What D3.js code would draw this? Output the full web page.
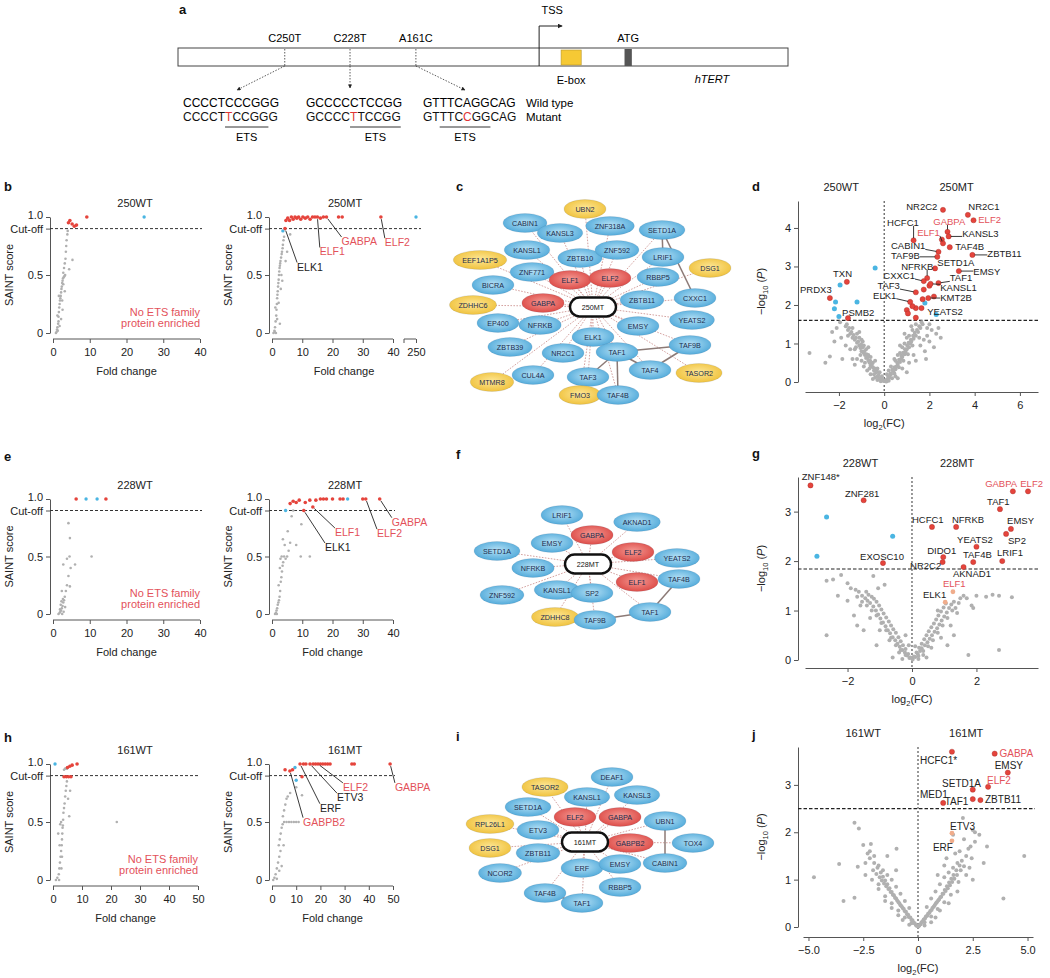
<!doctype html>
<html>
<head>
<meta charset="utf-8">
<script src="https://cdn.jsdelivr.net/npm/d3@7"></script>
<style>
  body { margin: 0; background: #fff; }
  text { font-family: "Liberation Sans", Arial, Helvetica, sans-serif; }
</style>
</head>
<body>
<div id="viz"></div>
<script>

// ---------- panel a: promoter scheme ----------
var mutations = ['C250T', 'C228T', 'A161C'];
var mutPos = [17.5, 28.2, 39.0];          // position along the promoter bar (0-100)
var tssPos = 59.2;
var eboxPos = [62.8, 66.1];
var atgPos = [73.2, 74.4];
var wtSeqs = ['CCCCTCCCGGG', 'GCCCCCTCCGG', 'GTTTCAGGCAG'];
var mtSeqs = ['CCCCTTCCGGG', 'GCCCCTTCCGG', 'GTTTCCGGCAG'];
var mutIndex = [5, 5, 5];
var etsRange = [[5, 10], [5, 11], [2, 8]];

// ---------- SAINT plots (fold change, SAINT score) ----------
var s250wtGrey = [[0.8,0],[1,0.01],[1.1,0.03],[1.2,0.05],[1.3,0.02],[1.4,0.08],[1.5,0.1],[1.5,0.14],[1.6,0.18],[1.7,0.22],[1.8,0.25],[1.9,0.28],[2,0.3],[2.1,0.32],[2.2,0.35],[2.3,0.38],[2.4,0.4],[2.5,0.43],[2.6,0.45],[2.7,0.47],[2.9,0.48],[3.1,0.49],[3.3,0.5],[2.8,0.52],[3,0.56],[3.2,0.6],[3.4,0.64],[3.5,0.7],[3.6,0.75],[3.7,0.8],[3.9,0.85],[4,0.88],[5.3,0.63],[4.4,0.55],[2.2,0.12],[1.8,0.06],[2.6,0.2],[1.2,0.15],[2.5,0.28],[3.2,0.36],[1.6,0.32],[2.8,0.42]];
var s250wtRed = [[4.2,0.95],[4.6,0.97],[5.2,0.94],[5.8,0.92],[6.4,0.93],[9.2,1.0]];
var s250wtBlue = [[24.8,1.0]];

var s250mtGrey = [[0.5,0],[0.8,0.02],[1,0.05],[1.2,0.1],[1.4,0.15],[1.5,0.2],[1.6,0.25],[1.7,0.3],[1.8,0.33],[1.9,0.36],[2,0.4],[2.1,0.43],[2.2,0.46],[2.3,0.5],[2.4,0.53],[2.5,0.56],[2.6,0.58],[2.7,0.6],[2.8,0.62],[3,0.65],[3.2,0.68],[3.3,0.7],[3.5,0.73],[3.6,0.76],[3.8,0.8],[4,0.83],[1.3,0],[1.7,0.12],[2.2,0.26],[3.1,0.5],[3.4,0.45],[2.9,0.38],[4.5,0.62],[5,0.7],[1.1,0.22],[2.6,0.08],[0.9,0.01],[6,0.85]];
var s250mtRed = [[4.3,0.9],[4.6,0.97],[5.2,0.99],[5.8,0.97],[6.4,1],[7,0.98],[7.6,1],[8.2,0.99],[8.8,1],[9.5,0.98],[10.2,1],[11,0.99],[11.8,1],[12.6,0.98],[13.4,1],[14.2,1],[15,1],[16,0.99],[17,1],[18,1],[22,1],[23.2,1],[36,1]];
var s250mtBlue = [[3.6,0.88],[250,1]];
var s250mtLabels = [['ELK1',4.3,0.9],['ELF1',15,1],['GABPA',18,1],['ELF2',36,1]];

var s228wtGrey = [[1.5,0],[1.8,0.01],[2,0.02],[2.2,0.03],[2.4,0.05],[2.6,0.07],[2.8,0.1],[3,0.12],[3.2,0.15],[2.5,0],[2.1,0.08],[1.9,0.04],[2.9,0.02],[3.3,0.06],[2.7,0.13],[2.3,0.11],[3.5,0.2],[2.4,0.2],[3.8,0.25],[4.6,0.24],[4.2,0.33],[4.8,0.4],[2.8,0.43],[3.8,0.48],[4.5,0.5],[6,0.43],[4.6,0.66],[4.2,0.79],[10.5,0.5]];
var s228wtRed = [[6.3,1],[14.4,1]];
var s228wtBlue = [[9,1],[12,1]];

var s228mtGrey = [[1,0],[1.3,0.01],[1.5,0.03],[1.7,0.05],[1.9,0.08],[2.1,0.1],[1.6,0],[2.3,0.12],[2.5,0.15],[2.7,0.2],[2.2,0.25],[2.9,0.28],[3.1,0.32],[3.3,0.37],[2.6,0.4],[3.5,0.42],[3.7,0.45],[2.8,0.48],[3.2,0.5],[4,0.5],[4.5,0.48],[5,0.5],[5.5,0.55],[4.2,0.6],[3.6,0.65],[6,0.62],[5.2,0.72],[8,0.6],[9.7,0.78],[12.5,0.5],[9.5,0.5],[6.5,0.85],[7,0.9]];
var s228mtRed = [[6,0.96],[7,0.98],[8,0.97],[9,0.99],[10.5,0.9],[11,0.97],[12.5,0.99],[13.5,0.93],[14.5,0.99],[16,1],[17,1],[18,1],[20,1],[22.5,1],[23.5,1],[30,1],[31,1],[35.6,1]];
var s228mtBlue = [[25,1],[4.5,0.9]];
var s228mtLabels = [['ELK1',10.5,0.9],['ELF1',13.5,0.93],['ELF2',31,1],['GABPA',35.6,1]];

var s161wtGrey = [[1,0],[1.5,0.02],[2,0.05],[2.2,0.1],[2.4,0.15],[2.6,0.2],[2.8,0.25],[3,0.3],[3.1,0.35],[3.2,0.4],[3.3,0.45],[3.4,0.47],[2.5,0.48],[2.8,0.5],[3.5,0.52],[3.6,0.58],[3.8,0.62],[4,0.66],[4.2,0.72],[4.4,0.77],[4.6,0.81],[4.8,0.85],[5.9,0.77],[5.2,0.7],[2.1,0],[2.9,0.1],[3.1,0.2],[2.3,0.3],[1.8,0.4],[22,0.5],[5.6,0.55],[4.2,0.96],[4.8,0.96],[3.8,0.95]];
var s161wtRed = [[3.8,0.89],[4.6,0.89],[5.4,0.89],[6.2,0.89],[5,0.97],[5.8,0.98],[6.6,0.99],[8.3,1]];
var s161wtBlue = [[0.7,1]];

var s161mtGrey = [[0.5,0],[1,0.02],[1.5,0.05],[2,0.1],[2.5,0.15],[3,0.2],[3.5,0.25],[2.8,0.3],[3.2,0.35],[3.6,0.4],[4,0.45],[4.4,0.48],[5,0.5],[6,0.5],[7,0.5],[8,0.5],[9,0.5],[10,0.5],[11,0.5],[4.5,0.55],[5,0.6],[5.5,0.65],[6,0.7],[6.5,0.72],[7.5,0.75],[12.4,0.73],[10,0.8],[3,0.08],[2,0.01],[4,0.12],[4.8,0.3]];
var s161mtRed = [[5.4,0.95],[7.4,0.94],[8.5,0.95],[12.4,0.89],[11.6,1],[13,1],[14,1],[15.7,1],[17,1],[18,1],[19,1],[20,1],[21,1],[22,1],[23,1],[24,1],[33,1],[34,1],[48.8,1]];
var s161mtBlue = [[9.5,0.97],[10,0.86]];
var s161mtLabels = [['GABPB2',7.4,0.94],['ERF',11.6,1],['ETV3',15.7,1],['ELF2',19,1],['GABPA',48.8,1]];

var etsGenes = ['ELF1', 'ELF2', 'GABPA', 'GABPB2'];

// ---------- networks: [protein, class, layout x, layout y] ----------
var net250 = [['UBN2','y',-8,-98],['CABIN1','b',-68,-84],['KANSL3','b',-33,-74],['ZNF318A','b',17,-81],['SETD1A','b',69,-77],['KANSL1','b',-66,-57],['ZBTB10','b',-13,-49],['ZNF592','b',24,-57],['LRIF1','b',70,-50],['EEF1A1P5','y',-113,-47],['ZNF771','b',-61,-35],['ELF1','r',-23,-27],['ELF2','r',17,-29],['RBBP5','b',65,-30],['DSG1','y',117,-39],['BICRA','b',-100,-22],['GABPA','r',-50,-4],['ZBTB11','b',49,-7],['CXXC1','b',102,-9],['ZDHHC6','y',-120,-2],['EP400','b',-95,16],['NFRKB','b',-53,18],['EMSY','b',45,19],['YEATS2','b',99,13],['ELK1','b',0,30],['ZBTB39','b',-83,40],['NR2C1','b',-30,46],['TAF1','b',24,45],['TAF9B','b',97,38],['CUL4A','b',-60,68],['TAF3','b',-5,70],['TAF4','b',57,63],['TASOR2','y',106,66],['MTMR8','y',-101,75],['FMO3','y',-13,88],['TAF4B','b',25,88]];
var net250Links = [['SETD1A','CXXC1'],['SETD1A','LRIF1'],['TAF1','TAF3'],['TAF1','TAF4B'],['TAF1','TAF4'],['TAF1','TAF9B'],['TAF4','TAF9B']];

var net228 = [['LRIF1','b',-26,-49],['AKNAD1','b',49,-42],['GABPA','r',4,-29],['EMSY','b',-36,-21],['SETD1A','b',-91,-13],['ELF2','r',45,-12],['YEATS2','b',89,-6],['NFRKB','b',-55,4],['ELF1','r',49,18],['TAF4B','b',91,15],['KANSL1','b',-31,26],['ZNF592','b',-86,31],['SP2','b',4,29],['TAF1','b',62,48],['ZDHHC8','y',-33,53],['TAF9B','b',7,56]];
var net228Links = [['TAF1','TAF4B'],['TAF1','TAF9B']];

var net161 = [['DEAF1','b',27,-65],['TASOR2','y',-40,-55],['KANSL1','b',2,-45],['KANSL3','b',52,-47],['SETD1A','b',-57,-35],['ELF2','r',-10,-25],['GABPA','r',35,-25],['UBN1','b',80,-21],['RPL26L1','y',-95,-18],['ETV3','b',-47,-12],['GABPB2','r',45,1],['TOX4','b',108,1],['DSG1','y',-95,6],['ZBTB11','b',-47,11],['ERF','b',-3,26],['EMSY','b',35,22],['CABIN1','b',80,21],['NCOR2','b',-85,31],['TAF4B','b',-40,51],['TAF1','b',-3,61],['RBBP5','b',35,45]];
var net161Links = [['UBN1','CABIN1'],['TAF1','TAF4B']];

// ---------- volcano plots: [log2(FC), -log10(P)] and [protein, log2(FC), -log10(P)] ----------
var v250Grey = [[0.05,0.02],[-0.1,0.05],[0.15,0.08],[-0.2,0.1],[0.25,0.12],[-0.3,0.15],[0.3,0.2],[-0.35,0.25],[0.4,0.28],[-0.45,0.3],[0.5,0.33],[-0.5,0.38],[0.55,0.4],[-0.6,0.42],[0.6,0.45],[-0.65,0.5],[0.7,0.52],[-0.7,0.55],[0.75,0.6],[-0.8,0.62],[0.8,0.65],[-0.85,0.7],[0.9,0.72],[-0.9,0.75],[0.95,0.78],[-1,0.8],[1,0.85],[-1.05,0.88],[1.1,0.9],[-1.1,0.95],[1.15,1],[-1.2,1.02],[1.2,1.05],[-1.3,1.1],[1.3,1.12],[-1.4,1.15],[1.4,1.2],[-1.5,1.25],[1.5,1.3],[-1.6,1.35],[1.6,1.4],[-1.7,1.45],[1.7,1.5],[-1.2,0.6],[-0.9,0.4],[-0.6,0.2],[0.5,0.15],[0.8,0.35],[1.1,0.5],[1.3,0.7],[-1.5,0.85],[-1.3,0.45],[0.2,0.03],[-0.15,0.02],[0.35,0.1],[-0.4,0.12],[1,0.25],[-0.75,0.3],[1.6,0.95],[1.9,1.2],[2.1,1.35],[2.3,1.25],[2.5,1.15],[1.8,0.8],[-1.9,1.15],[-1.85,0.6],[-2.4,0.66],[-3.3,0.75],[-1.4,0.6],[-1,0.55],[-0.5,0.08],[0.6,0.1],[1.4,0.55],[-1.7,0.95],[1.2,1.45],[-0.3,0.05],[0.1,0.01],[2,1.5],[-2.1,1.4],[-1.1,1.3],[0.9,1.25],[-0.95,1.05],[1.75,1.1],[-1.3,0.85],[-0.7,0.9],[0.7,0.95],[2.2,0.9],[-2.2,1.05],[0.45,0.6],[-0.4,0.55],
  [-0.05,0.03],[0.08,0.05],[-0.12,0.1],[0.18,0.14],[-0.25,0.18],[0.28,0.22],[-0.32,0.28],[0.36,0.32],[-0.42,0.35],[0.46,0.38],[-0.55,0.45],[0.58,0.5],[-0.62,0.55],[0.66,0.58],[-0.72,0.64],[0.76,0.68],[-0.78,0.72],[0.84,0.76],[-0.88,0.8],[0.92,0.85],[-0.95,0.9],[1.02,0.95],[-1.02,0.98],[1.08,1.02],[-1.15,1.05],[1.18,1.1],[-1.25,1.15],[1.28,1.2],[-1.35,1.22],[1.35,1.28],[-1.45,1.3],[1.45,1.35],[-1.55,1.4],[1.55,1.45],[-1.65,1.5],[1.65,1.55],[-0.3,0.35],[0.3,0.4],[-0.5,0.5],[0.5,0.55],[-0.7,0.7],[0.7,0.75],[-0.9,0.95],[0.9,1],[-1.1,1.15],[1.1,1.2],[-0.2,0.25],[0.2,0.3],[-0.6,0.65],[0.6,0.7],[-0.8,0.85],[0.8,0.9],[-1,1.1],[1,1.15],[-1.2,1.25],[1.25,1.35],[-1.4,1.4],[1.4,1.5],[-0.45,0.2],[0.45,0.22],[-0.65,0.35],[0.65,0.38],[-0.85,0.5],[0.85,0.55],[-1.05,0.7],[1.05,0.72],[-1.25,0.9],[1.25,0.95],[1.55,1.15],[-1.6,1.2],[-0.1,0.15],[0.12,0.2],[2,1.05],[1.9,1.4],[-2.3,1.3],[-2.6,0.5],[-1.95,1.55],[2.4,1.4],[1.85,0.6]];
var v250Sig = [['NR2C2',2.6,4.47],['NR2C1',3.7,4.34],['ELF2',3.95,4.2],['GABPA',2.8,3.9],['KANSL3',2.85,3.78],['ELF1',2.6,3.6],['HCFC1',1.3,3.68],['TAF4B',2.9,3.5],['CABIN1',2.4,3.38],['ZBTB11',3.9,3.3],['TAF9B',2.35,3.25],['SETD1A',2.25,2.95],['NFRKB',1.9,2.7],['EMSY',3.3,2.88],['CXXC1',1.75,2.62],['TAF1',2.4,2.57],['TAF3',1.4,2.33],['KANSL1',2.05,2.55],['ELK1',1.15,2.08],['KMT2B',1.95,2.18],['YEATS2',1.65,1.92],['PSMB2',-1.6,1.66],['TXN',-1.65,2.6],['PRDX3',-2.4,2.18]];
var v250Red = [[1,1.87],[1.05,1.78],[1.4,1.92],[1.4,1.67],[1.7,2.15],[2.2,2.22],[1.25,1.97],[1.75,2.4],[2,2.5],[2.55,3.7]];
var v250Blue = [[-1.95,2.52],[-2.15,2.08],[-2.2,1.9],[-2,1.7],[-1.2,2.08],[-0.4,2.96],[1.8,2.05],[2.3,1.75]];

var v228Grey = [[0.02,0.01],[-0.08,0.04],[0.1,0.06],[-0.15,0.09],[0.18,0.12],[-0.22,0.15],[0.25,0.18],[-0.3,0.2],[0.3,0.24],[-0.38,0.27],[0.4,0.3],[-0.45,0.33],[0.48,0.36],[-0.52,0.4],[0.55,0.43],[-0.6,0.46],[0.62,0.5],[-0.68,0.54],[0.7,0.57],[-0.75,0.6],[0.78,0.64],[-0.82,0.68],[0.85,0.72],[-0.9,0.76],[0.92,0.8],[-0.98,0.84],[1,0.88],[-1.05,0.92],[1.08,0.96],[-1.12,1],[1.15,1.05],[-1.2,1.08],[1.22,1.12],[-1.3,1.15],[1.3,1.18],[-1.38,1.2],[-1.45,1.25],[-1.55,1.3],[-1.65,1.38],[-1.75,1.42],[-1.9,1.45],[-2.45,1.63],[-2.65,1.6],[-2.2,1.72],[-1.2,1.7],[-0.85,1.52],[-1.6,1.1],[-1.3,0.85],[-1,0.6],[-0.7,0.4],[-0.4,0.15],[0.35,0.1],[0.6,0.25],[0.9,0.45],[1.2,0.7],[1.4,0.95],[1.6,1.3],[2,1.3],[2.3,1.28],[2.7,1.3],[3.1,1.27],[1.75,0.1],[2.7,0.2],[-2.65,0.5],[-0.2,0.5],[-1.1,0.3],[1.5,1.25],[1.35,1.05],[-0.6,0.05],[0.45,0.05],[-2,1.2],[-1.8,0.9],[1.85,1.1],[0.2,0.02],[-0.3,0.02],[1.1,0.3],[-1.5,0.6],[0.8,1],
  [-0.05,0.05],[0.06,0.07],[-0.12,0.12],[0.14,0.15],[-0.2,0.22],[0.22,0.25],[-0.28,0.3],[0.3,0.33],[-0.35,0.38],[0.38,0.42],[-0.42,0.46],[0.45,0.5],[-0.5,0.55],[0.52,0.58],[-0.58,0.62],[0.6,0.66],[-0.65,0.7],[0.68,0.74],[-0.72,0.78],[0.75,0.82],[-0.8,0.86],[0.82,0.9],[-0.88,0.94],[0.9,0.98],[-0.95,1.02],[0.98,1.06],[-1.02,1.1],[1.05,1.14],[-1.1,1.18],[-1.18,1.24],[-1.25,1.28],[-1.35,1.32],[-1.42,1.38],[-0.2,0.1],[0.2,0.08],[-0.35,0.2],[0.35,0.18],[-0.5,0.3],[0.5,0.28],[-0.65,0.45],[0.65,0.4],[-0.8,0.6],[0.8,0.55],[-0.95,0.75],[0.95,0.7],[-1.1,0.9],[1.1,0.85],[-1.25,1],[1.25,1],[-1.4,1.1],[1.45,1.15],[-1.55,1.18],[-1.7,1.28],[1.7,1.25],[-2,1.55],[-1.05,1.45],[2.5,1.32],[1.3,0.5],[-1.7,0.7],[-0.1,0.3],[0.1,0.28],[1.9,1.05],[-2.3,1.3]];
var v228Sig = [['ZNF148*',-3.15,3.53],['ZNF281',-1.5,3.23],['EXOSC10',-0.9,1.96],['GABPA',3.13,3.41],['ELF2',3.6,3.41],['TAF1',2.73,3.05],['HCFC1',0.62,2.69],['NFRKB',1.37,2.69],['EMSY',3.07,2.65],['SP2',2.92,2.55],['YEATS2',2,2.29],['DIDO1',0.97,2.08],['TAF4B',1.9,1.98],['LRIF1',2.8,2],['NR2C2',0.95,1.98],['AKNAD1',1.6,1.88]];
var v228Weak = [['ELF1',1.27,1.38],['ELK1',1.03,1.17]];
var v228Blue = [[-2.65,2.89],[-2.95,2.1],[-0.6,2.5]];

var v161Grey = [[0.02,0.01],[-0.1,0.04],[0.12,0.06],[-0.2,0.09],[0.22,0.12],[-0.3,0.15],[0.32,0.18],[-0.42,0.21],[0.42,0.24],[-0.5,0.27],[0.52,0.3],[-0.6,0.33],[0.62,0.36],[-0.7,0.4],[0.72,0.43],[-0.8,0.46],[0.82,0.5],[-0.9,0.53],[0.92,0.56],[-1,0.6],[1.02,0.63],[-1.1,0.67],[1.12,0.7],[-1.2,0.74],[1.22,0.78],[-1.3,0.82],[1.32,0.86],[-1.4,0.9],[1.42,0.94],[-1.5,0.98],[1.52,1.02],[-1.6,1.06],[1.62,1.1],[-1.7,1.15],[1.75,1.2],[-1.85,1.25],[1.9,1.3],[-2,1.35],[2,1.4],[-2.2,1.45],[2.2,1.5],[-2.3,1.55],[-2.5,1.73],[-2.2,1.6],[-0.98,1.65],[-1.4,1.5],[1.3,1.45],[1.7,1.55],[2.4,1.7],[2.6,1.8],[2.8,1.95],[2.5,2.05],[1.6,1.95],[2.05,2.3],[2.6,2],[3.15,1.7],[2.35,1.25],[3,1.35],[-2.9,2.2],[-2.7,2.08],[-3.6,1.33],[-2.75,1.27],[-4.75,1.05],[-3.4,0.55],[-2.9,0.62],[3.9,0.6],[4.85,1.5],[-1.2,0.4],[-0.7,0.15],[0.6,0.1],[1,0.35],[-1.8,0.8],[1.8,0.75],[-0.4,0.05],[0.3,0.03],[-2.4,1.1],[2.5,1],[-1.5,0.55],[1.4,0.5],[0.8,0.2],[-0.9,0.25],
  [-0.05,0.02],[0.06,0.03],[-0.15,0.08],[0.16,0.1],[-0.25,0.14],[0.26,0.16],[-0.35,0.2],[0.36,0.22],[-0.45,0.26],[0.46,0.28],[-0.55,0.32],[0.56,0.34],[-0.65,0.38],[0.66,0.4],[-0.75,0.44],[0.76,0.46],[-0.85,0.5],[0.86,0.52],[-0.95,0.56],[0.96,0.58],[-1.05,0.62],[1.06,0.64],[-1.15,0.68],[1.16,0.7],[-1.25,0.74],[1.26,0.76],[-1.35,0.8],[1.36,0.82],[-1.45,0.86],[1.46,0.88],[-1.55,0.92],[1.56,0.95],[-1.65,0.98],[1.66,1.02],[-1.75,1.05],[1.78,1.1],[-1.9,1.12],[1.95,1.2],[-2.05,1.2],[2.1,1.28],[-0.4,0.4],[0.4,0.42],[-0.6,0.55],[0.6,0.6],[-0.8,0.7],[0.8,0.75],[-1,0.85],[1,0.9],[-1.2,1],[1.2,1.05],[-1.4,1.1],[1.4,1.15],[-1.6,1.2],[1.6,1.25],[-1.8,1.3],[1.8,1.35],[-0.3,0.08],[0.3,0.1],[-0.6,0.2],[0.6,0.22],[-0.9,0.35],[0.9,0.38],[-1.2,0.5],[1.2,0.52],[-1.5,0.65],[1.5,0.68],[-1.8,0.9],[1.85,0.95],[-2.1,1],[2.2,1.1],[-2.4,1.35],[2.45,1.45],[-2,1.5],[1.9,1.6],[1.2,1.3],[-1,1.2],[2.1,1.85],[2.3,1.65],[-2.15,1.75],[0.9,1.1]];
var v161Sig = [['HCFC1*',1.55,3.7],['GABPA',3.5,3.66],['EMSY',4.1,3.26],['ELF2',3.2,2.96],['SETD1A',2.5,2.9],['MED1',1.15,2.62],['TAF1',2.5,2.7],['ZBTB11',2.85,2.68]];
var v161Weak = [['ETV3',1.55,1.98],['ERF',1.55,1.82]];

// ---------- label placement (layout only) ----------
var v250LabelAt = {NR2C2:[2.35,4.55,'end'],NR2C1:[3.72,4.54,'start'],ELF2:[4.16,4.21,'start'],GABPA:[2.17,4.17,'start'],KANSL3:[3.45,3.84,'start'],ELF1:[1.46,3.88,'start'],HCFC1:[0.13,4.14,'start'],TAF4B:[3.14,3.52,'start'],CABIN1:[0.3,3.53,'start'],ZBTB11:[4.56,3.33,'start'],TAF9B:[0.3,3.27,'start'],SETD1A:[2.35,3.1,'start'],NFRKB:[0.75,3.0,'start'],EMSY:[3.94,2.86,'start'],CXXC1:[-0.04,2.76,'start'],TAF1:[2.9,2.7,'start'],TAF3:[-0.3,2.5,'start'],KANSL1:[2.48,2.44,'start'],ELK1:[-0.49,2.25,'start'],KMT2B:[2.48,2.18,'start'],YEATS2:[1.9,1.82,'start'],PSMB2:[-1.86,1.79,'start'],TXN:[-2.26,2.8,'start'],PRDX3:[-3.72,2.4,'start']};
var v228LabelAt = {'ZNF148*':[-3.42,3.7,'start'],ZNF281:[-2.08,3.37,'start'],EXOSC10:[-1.61,2.08,'start'],GABPA:[2.27,3.56,'start'],ELF2:[3.36,3.56,'start'],TAF1:[2.33,3.2,'start'],HCFC1:[0.0,2.83,'start'],NFRKB:[1.24,2.83,'start'],EMSY:[2.95,2.81,'start'],SP2:[2.98,2.42,'start'],YEATS2:[1.4,2.44,'start'],DIDO1:[0.47,2.22,'start'],TAF4B:[1.58,2.12,'start'],LRIF1:[2.64,2.16,'start'],NR2C2:[-0.06,1.9,'start'],AKNAD1:[1.27,1.74,'start'],ELF1:[0.96,1.54,'start'],ELK1:[0.34,1.33,'start']};
var v161LabelAt = {'HCFC1*':[0.09,3.51,'start'],GABPA:[3.72,3.66,'start'],EMSY:[3.5,3.42,'start'],ELF2:[3.15,3.1,'start'],SETD1A:[1.1,3.02,'start'],MED1:[0.09,2.79,'start'],TAF1:[2.3,2.64,'end'],ZBTB11:[3.06,2.7,'start'],ETV3:[1.46,2.13,'start'],ERF:[0.68,1.67,'start']};
var s250mtLabelAt = {ELK1:[8.3,0.57,'start'],ELF1:[15.8,0.7,'start'],GABPA:[23,0.79,'start'],ELF2:[37.3,0.78,'start']};
var s228mtLabelAt = {ELK1:[17.5,0.58,'start'],ELF1:[20.8,0.71,'start'],ELF2:[34.7,0.7,'start'],GABPA:[39.6,0.8,'start']};
var s161mtLabelAt = {GABPB2:[30.2,0.5,'end'],ERF:[19.8,0.62,'start'],ETV3:[26.9,0.71,'start'],ELF2:[29.3,0.8,'start'],GABPA:[50.8,0.8,'start']};

var RED = '#e5443c', BLUE = '#4ab5e2', GREY = '#b0b0b0', LABRED = '#e3515a', PALE = '#f0ad8c';

var svg = d3.select('#viz').append('svg')
  .attr('width', 1050)
  .attr('height', 978)
  .style('background', '#fff');
var defs = svg.append('defs');

function radial(id, c0, c1) {
  var gr = defs.append('radialGradient').attr('id', id)
    .attr('cx', '50%').attr('cy', '45%').attr('r', '60%');
  gr.append('stop').attr('offset', '0%').attr('stop-color', c0);
  gr.append('stop').attr('offset', '100%').attr('stop-color', c1);
}
radial('gb', '#b4e0f5', '#4aa6d8');
radial('gr', '#f49a94', '#db4541');
radial('gy', '#fde796', '#efbf36');

defs.append('marker').attr('id', 'arr')
  .attr('viewBox', '0 0 10 10').attr('refX', 9).attr('refY', 5)
  .attr('markerWidth', 5).attr('markerHeight', 5).attr('orient', 'auto')
  .append('path').attr('d', 'M0,0L10,5L0,10z').attr('fill', '#222');

function letter(t, x, y) {
  svg.append('text').attr('x', x).attr('y', y).attr('font-size', 13)
    .attr('font-weight', 'bold').attr('fill', '#111').text(t);
}

// ================= panel a =================
(function() {
  var px = d3.scaleLinear().domain([0, 100]).range([178, 788]);
  var g = svg.append('g');
  g.append('rect').attr('x', px(0)).attr('y', 48).attr('width', px(100) - px(0)).attr('height', 18)
    .attr('fill', '#fff').attr('stroke', '#444').attr('stroke-width', 1);
  g.append('rect').attr('x', px(eboxPos[0])).attr('y', 50).attr('width', px(eboxPos[1]) - px(eboxPos[0]))
    .attr('height', 15).attr('fill', '#f6c934').attr('stroke', '#b8952a').attr('stroke-width', 0.6);
  g.append('rect').attr('x', px(atgPos[0])).attr('y', 49).attr('width', px(atgPos[1]) - px(atgPos[0]))
    .attr('height', 17).attr('fill', '#555');
  g.append('text').attr('x', px((eboxPos[0] + eboxPos[1]) / 2)).attr('y', 84).attr('text-anchor', 'middle')
    .attr('font-size', 11).text('E-box');
  g.append('text').attr('x', px((atgPos[0] + atgPos[1]) / 2)).attr('y', 42).attr('text-anchor', 'middle')
    .attr('font-size', 11).text('ATG');
  g.append('text').attr('x', 712).attr('y', 83).attr('text-anchor', 'middle')
    .attr('font-size', 11).attr('font-style', 'italic').text('hTERT');
  // TSS
  g.append('path').attr('d', 'M' + px(tssPos) + ',66V26H' + (px(tssPos) + 23))
    .attr('fill', 'none').attr('stroke', '#222').attr('stroke-width', 1).attr('marker-end', 'url(#arr)');
  g.append('text').attr('x', px(tssPos) + 13).attr('y', 14).attr('text-anchor', 'middle')
    .attr('font-size', 11).text('TSS');

  var seqX = [183, 306, 423];
  var arrowEnd = [[237, 90], [null, 88], [465, 90]];
  mutations.forEach(function(m, i) {
    var mx = px(mutPos[i]);
    g.append('text').attr('x', mx).attr('y', 42).attr('text-anchor', 'middle').attr('font-size', 11).text(m);
    g.append('line').attr('x1', mx).attr('x2', mx).attr('y1', 49).attr('y2', 66)
      .attr('stroke', '#333').attr('stroke-width', 0.8).attr('stroke-dasharray', '1.5,1.5');
    var ex = arrowEnd[i][0] === null ? mx : arrowEnd[i][0];
    g.append('line').attr('x1', mx).attr('y1', 66).attr('x2', ex).attr('y2', arrowEnd[i][1])
      .attr('stroke', '#333').attr('stroke-width', 0.8).attr('stroke-dasharray', '1.5,1.5')
      .attr('marker-end', 'url(#arr)');
    g.append('text').attr('x', seqX[i]).attr('y', 107).attr('font-size', 12).text(wtSeqs[i]);
    var t = g.append('text').attr('x', seqX[i]).attr('y', 121).attr('font-size', 12);
    mtSeqs[i].split('').forEach(function(c, k) {
      t.append('tspan').attr('fill', k === mutIndex[i] ? '#e03535' : '#111').text(c);
    });
    var node = t.node();
    var a = node.getStartPositionOfChar(etsRange[i][0]).x;
    var b = node.getEndPositionOfChar(etsRange[i][1] - 1).x;
    g.append('line').attr('x1', a).attr('x2', b).attr('y1', 127).attr('y2', 127)
      .attr('stroke', '#333').attr('stroke-width', 1);
    g.append('text').attr('x', (a + b) / 2).attr('y', 141).attr('text-anchor', 'middle')
      .attr('font-size', 11).text('ETS');
  });
  g.append('text').attr('x', 526).attr('y', 107).attr('font-size', 11.5).text('Wild type');
  g.append('text').attr('x', 526).attr('y', 121).attr('font-size', 11.5).text('Mutant');
  letter('a', 179, 14);
})();

// ================= helpers =================
function styleAxis(sel) {
  sel.selectAll('path,line').attr('stroke', '#555').attr('stroke-width', 1);
  sel.selectAll('text').attr('font-size', 11).attr('fill', '#222')
    .style('font-family', '"Liberation Sans", Arial, sans-serif');
}

function leaderLabel(g, txt, tx, ty, anchor, color, px, py, withLine, fs) {
  var t = g.append('text').attr('x', tx).attr('y', ty).attr('dy', '0.35em')
    .attr('text-anchor', anchor).attr('font-size', fs || 10).attr('fill', color).text(txt);
  if (!withLine) return;
  var b = t.node().getBBox();
  var cx = Math.max(b.x, Math.min(px, b.x + b.width));
  var cy = Math.max(b.y + 2, Math.min(py, b.y + b.height - 2));
  var dx = px - cx, dy = py - cy, dd = Math.sqrt(dx * dx + dy * dy);
  if (dd < 7) return;
  g.append('line').attr('x1', cx).attr('y1', cy)
    .attr('x2', px - dx / dd * 2.2).attr('y2', py - dy / dd * 2.2)
    .attr('stroke', '#222').attr('stroke-width', 0.9);
}

function dots(g, data, x, y, r, fill, stroke) {
  g.selectAll(null).data(data).enter().append('circle')
    .attr('cx', function(d) { return x(d[0]); })
    .attr('cy', function(d) { return y(d[1]); })
    .attr('r', r).attr('fill', fill)
    .attr('stroke', stroke || 'none').attr('stroke-width', 0.4);
}

function saintPlot(o) {
  var x = d3.scaleLinear().domain(o.xd).range(o.xr);
  var y = d3.scaleLinear().domain([0, 1]).range([o.y0, o.y1]);
  var g = svg.append('g');
  var axX = x(0) - 3, axY = o.y0 + 6;
  var right = o.xr[o.xr.length - 1];

  var ya = g.append('g').attr('transform', 'translate(' + axX + ',0)')
    .call(d3.axisLeft(y).tickValues([0, 0.5, 0.9, 1]).tickSize(4).tickSizeOuter(0)
      .tickFormat(function(v) { return v === 0.9 ? 'Cut-off' : (v === 0 ? '0' : d3.format('.1f')(v)); }));
  styleAxis(ya);
  ya.selectAll('.tick text').attr('dy', function(v) { return v === 1 ? '0.1em' : '0.32em'; });

  var xa = g.append('g').attr('transform', 'translate(0,' + axY + ')')
    .call(d3.axisBottom(x).tickValues(o.ticks).tickSize(4).tickSizeOuter(0));
  styleAxis(xa);
  xa.selectAll('.tick text').attr('dy', '0.95em');
  if (o.broken) {
    xa.select('.domain').remove();
    xa.append('line').attr('x1', x(0)).attr('x2', x(40)).attr('stroke', '#555');
    xa.append('line').attr('x1', x(40) + 11).attr('x2', x(250)).attr('stroke', '#555');
    xa.append('line').attr('x1', x(40) + 11).attr('x2', x(40) + 11).attr('y2', 4).attr('stroke', '#555');
  } else {
    xa.select('.domain').attr('d', 'M' + x(0) + ',0H' + x(o.ticks[o.ticks.length - 1]));
  }

  g.append('line').attr('x1', axX).attr('x2', right + 2)
    .attr('y1', y(0.9)).attr('y2', y(0.9))
    .attr('stroke', '#333').attr('stroke-width', 1).attr('stroke-dasharray', '3,2');

  dots(g, o.grey, x, y, 1.3, GREY);
  dots(g, o.blue, x, y, 1.7, BLUE);
  dots(g, o.red, x, y, 1.8, RED);

  g.append('text').attr('x', o.titleX).attr('y', o.y1 - 10).attr('text-anchor', 'middle')
    .attr('font-size', 11).attr('fill', '#222').text(o.title);
  g.append('text').attr('x', (x(0) + x(o.ticks[o.ticks.length - 1])) / 2).attr('y', o.y0 + 42)
    .attr('text-anchor', 'middle').attr('font-size', 11).attr('fill', '#222').text('Fold change');
  g.append('text').attr('transform', 'translate(' + (axX - 37) + ',' + y(0.5) + ') rotate(-90)')
    .attr('text-anchor', 'middle').attr('font-size', 11).attr('fill', '#222').text('SAINT score');

  if (o.note) {
    var xEnd = x(o.ticks[o.ticks.length - 1]);
    g.append('text').attr('x', xEnd).attr('y', y(0.15)).attr('text-anchor', 'end')
      .attr('font-size', 11).attr('fill', LABRED).text('No ETS family');
    g.append('text').attr('x', xEnd).attr('y', y(0.055)).attr('text-anchor', 'end')
      .attr('font-size', 11).attr('fill', LABRED).text('protein enriched');
  }
  if (o.labels) {
    o.labels.forEach(function(l) {
      var p = o.labelAt[l[0]];
      var col = etsGenes.indexOf(l[0]) >= 0 ? LABRED : '#222';
      leaderLabel(g, l[0], x(p[0]), y(p[1]), p[2], col, x(l[1]), y(l[2]), true, 10.5);
    });
  }
}

function volcano(o) {
  var x = d3.scaleLinear().domain(o.xd).range(o.xr);
  var y = d3.scaleLinear().domain(o.yd).range(o.yr);
  var g = svg.append('g');

  var xa = g.append('g').attr('transform', 'translate(0,' + o.xAxisY + ')')
    .call(d3.axisBottom(x).tickValues(o.xt).tickSize(4).tickSizeOuter(0).tickFormat(o.fmt));
  styleAxis(xa);
  xa.selectAll('.tick text').attr('dy', '0.95em');
  var ya = g.append('g').attr('transform', 'translate(' + o.yAxisX + ',0)')
    .call(d3.axisLeft(y).tickValues(o.yt).tickSize(4).tickSizeOuter(0).tickFormat(d3.format('d')));
  styleAxis(ya);

  g.append('line').attr('x1', x(0)).attr('x2', x(0)).attr('y1', y(o.yd[1])).attr('y2', o.xAxisY)
    .attr('stroke', '#333').attr('stroke-width', 1).attr('stroke-dasharray', '2,2');
  g.append('line').attr('x1', o.yAxisX).attr('x2', o.xr[1] + 2).attr('y1', y(o.thr)).attr('y2', y(o.thr))
    .attr('stroke', '#222').attr('stroke-width', 1.1).attr('stroke-dasharray', '3.5,2');

  dots(g, o.grey, x, y, 2, GREY);
  dots(g, o.blue, x, y, 2.5, BLUE);
  if (o.red) dots(g, o.red, x, y, 2.6, RED, '#a52a25');
  var weak = o.weak || [];
  dots(g, weak.map(function(d) { return [d[1], d[2]]; }), x, y, 2.4, PALE);
  dots(g, o.sig.map(function(d) { return [d[1], d[2]]; }), x, y, 2.6, RED, '#a52a25');

  o.sig.concat(weak).forEach(function(d) {
    var p = o.labelAt[d[0]];
    if (!p) return;
    var col = etsGenes.indexOf(d[0]) >= 0 ? LABRED : '#222';
    leaderLabel(g, d[0], x(p[0]), y(p[1]), p[2], col, x(d[1]), y(d[2]), o.lines, o.fs);
  });

  g.append('text').attr('x', x(o.titles[0])).attr('y', y(o.yd[1]) - 10).attr('text-anchor', 'middle')
    .attr('font-size', 11).attr('fill', '#222').text(o.titles[2]);
  g.append('text').attr('x', x(o.titles[1])).attr('y', y(o.yd[1]) - 10).attr('text-anchor', 'middle')
    .attr('font-size', 11).attr('fill', '#222').text(o.titles[3]);

  var xl = g.append('text').attr('x', x(0)).attr('y', o.xAxisY + 35).attr('text-anchor', 'middle')
    .attr('font-size', 11).attr('fill', '#222');
  xl.append('tspan').text('log');
  xl.append('tspan').attr('font-size', 7.5).attr('dy', 3).text('2');
  xl.append('tspan').attr('dy', -3).text('(FC)');

  var yl = g.append('text')
    .attr('transform', 'translate(' + (o.yAxisX - 33) + ',' + y(o.yd[1] / 2) + ') rotate(-90)')
    .attr('text-anchor', 'middle').attr('font-size', 11).attr('fill', '#222');
  yl.append('tspan').text('\u2212log');
  yl.append('tspan').attr('font-size', 7.5).attr('dy', 3).text('10');
  yl.append('tspan').attr('dy', -3).text(' (');
  yl.append('tspan').attr('font-style', 'italic').text('P');
  yl.append('tspan').text(')');
}

function network(cx, cy, hub, nodes, links) {
  var sx = d3.scaleLinear().domain([-150, 150]).range([cx - 150, cx + 150]);
  var sy = d3.scaleLinear().domain([-120, 120]).range([cy - 120, cy + 120]);
  var g = svg.append('g');
  var pos = {};
  nodes.forEach(function(n) { pos[n[0]] = [sx(n[2]), sy(n[3])]; });

  g.selectAll(null).data(nodes).enter().append('line')
    .attr('x1', sx(0)).attr('y1', sy(0))
    .attr('x2', function(d) { return sx(d[2]); })
    .attr('y2', function(d) { return sy(d[3]); })
    .attr('stroke', '#c98a88').attr('stroke-width', 0.8).attr('stroke-dasharray', '1.6,1.4');
  g.selectAll(null).data(links).enter().append('line')
    .attr('x1', function(d) { return pos[d[0]][0]; })
    .attr('y1', function(d) { return pos[d[0]][1]; })
    .attr('x2', function(d) { return pos[d[1]][0]; })
    .attr('y2', function(d) { return pos[d[1]][1]; })
    .attr('stroke', '#8c7a76').attr('stroke-width', 1.5);

  var fillFor = { b: 'url(#gb)', r: 'url(#gr)', y: 'url(#gy)' };
  var ng = g.selectAll(null).data(nodes).enter().append('g')
    .attr('transform', function(d) { return 'translate(' + sx(d[2]) + ',' + sy(d[3]) + ')'; });
  ng.each(function(d) {
    var s = d3.select(this);
    var t = s.append('text').attr('text-anchor', 'middle').attr('dy', '0.35em')
      .attr('font-size', 7.2).attr('fill', '#1d2d4d').text(d[0]);
    var w = t.node().getComputedTextLength();
    s.insert('ellipse', 'text').attr('rx', Math.max(21, w / 2 + 9)).attr('ry', 9.5)
      .attr('fill', fillFor[d[1]]).attr('stroke', 'rgba(60,90,120,0.25)').attr('stroke-width', 0.5);
  });

  g.append('rect').attr('x', sx(0) - 23).attr('y', sy(0) - 9.5).attr('width', 46).attr('height', 19)
    .attr('rx', 9.5).attr('fill', '#fff').attr('stroke', '#111').attr('stroke-width', 2.4);
  g.append('text').attr('x', sx(0)).attr('y', sy(0)).attr('dy', '0.35em').attr('text-anchor', 'middle')
    .attr('font-size', 7.2).attr('fill', '#111').text(hub);
}

function fmtPM(v) { return v === 0 ? '0' : d3.format('.1f')(v); }

// ================= row 1: 250 =================
letter('b', 4, 191);
saintPlot({ xd: [0, 40], xr: [53, 200], y0: 333, y1: 217, ticks: [0, 10, 20, 30, 40],
  grey: s250wtGrey, red: s250wtRed, blue: s250wtBlue, title: '250WT', titleX: 135, note: true });
saintPlot({ xd: [0, 40, 248, 252], xr: [272, 393, 413, 419], y0: 333, y1: 217,
  ticks: [0, 10, 20, 30, 40, 250], broken: true,
  grey: s250mtGrey, red: s250mtRed, blue: s250mtBlue, title: '250MT', titleX: 345,
  labels: s250mtLabels, labelAt: s250mtLabelAt });
letter('c', 456, 191);
network(593, 307, '250MT', net250, net250Links);
letter('d', 752, 191);
volcano({ xd: [-3.5, 6.8], xr: [805, 1038], yd: [0, 4.7], yr: [382, 201], yAxisX: 798, xAxisY: 392,
  thr: 1.6, xt: [-2, 0, 2, 4, 6], yt: [0, 1, 2, 3, 4], fmt: d3.format('d'), fs: 9.5,
  grey: v250Grey, blue: v250Blue, red: v250Red, sig: v250Sig, labelAt: v250LabelAt, lines: true,
  titles: [-1.9, 3.2, '250WT', '250MT'] });

// ================= row 2: 228 =================
letter('e', 4, 461);
saintPlot({ xd: [0, 40], xr: [53, 200], y0: 614, y1: 499, ticks: [0, 10, 20, 30, 40],
  grey: s228wtGrey, red: s228wtRed, blue: s228wtBlue, title: '228WT', titleX: 135, note: true });
saintPlot({ xd: [0, 40], xr: [272, 393], y0: 614, y1: 499, ticks: [0, 10, 20, 30, 40],
  grey: s228mtGrey, red: s228mtRed, blue: s228mtBlue, title: '228MT', titleX: 345,
  labels: s228mtLabels, labelAt: s228mtLabelAt });
letter('f', 456, 459);
network(588, 564, '228MT', net228, net228Links);
letter('g', 752, 458);
volcano({ xd: [-3.32, 3.91], xr: [805, 1038], yd: [0, 3.7], yr: [660, 477], yAxisX: 798, xAxisY: 668,
  thr: 1.84, xt: [-2, 0, 2], yt: [0, 1, 2, 3], fmt: d3.format('d'), fs: 9.5,
  grey: v228Grey, blue: v228Blue, sig: v228Sig, weak: v228Weak, labelAt: v228LabelAt, lines: false,
  titles: [-1.6, 1.4, '228WT', '228MT'] });

// ================= row 3: 161 =================
letter('h', 4, 742);
saintPlot({ xd: [0, 50], xr: [53, 198], y0: 880, y1: 764, ticks: [0, 10, 20, 30, 40, 50],
  grey: s161wtGrey, red: s161wtRed, blue: s161wtBlue, title: '161WT', titleX: 135, note: true });
saintPlot({ xd: [0, 50], xr: [272, 393], y0: 880, y1: 764, ticks: [0, 10, 20, 30, 40, 50],
  grey: s161mtGrey, red: s161mtRed, blue: s161mtBlue, title: '161MT', titleX: 345,
  labels: s161mtLabels, labelAt: s161mtLabelAt });
letter('i', 456, 741);
network(585, 842, '161MT', net161, net161Links);
letter('j', 752, 739);
volcano({ xd: [-5.25, 5.25], xr: [803, 1033], yd: [0, 3.8], yr: [927, 747], yAxisX: 798, xAxisY: 937,
  thr: 2.5, xt: [-5, -2.5, 0, 2.5, 5], yt: [0, 1, 2, 3], fmt: fmtPM, fs: 10,
  grey: v161Grey, blue: [], sig: v161Sig, weak: v161Weak, labelAt: v161LabelAt, lines: false,
  titles: [-2.5, 2.2, '161WT', '161MT'] });

</script>
</body>
</html>
